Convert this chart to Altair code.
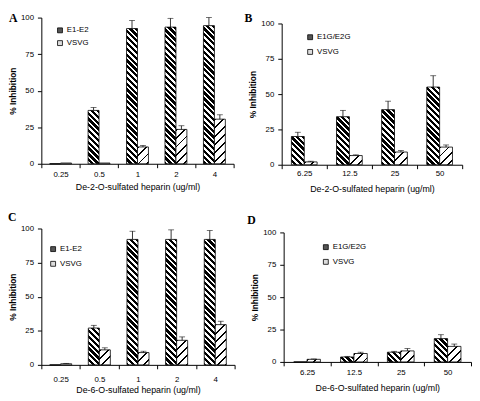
import math
import altair as alt

# ---------------- data ----------------
cats_A = ["0.25", "0.5", "1", "2", "4"]
names_A = ["E1-E2", "VSVG"]
e_A = [0, 36.5, 92.5, 93.5, 94.5]
e_A_err = [0, 2, 5.5, 6, 5.5]
v_A = [0.5, 0.5, 11.5, 23.5, 30.5]
v_A_err = [0, 0, 1, 2.5, 3]

cats_B = ["6.25", "12.5", "25", "50"]
names_B = ["E1G/E2G", "VSVG"]
e_B = [20, 34, 39, 55]
e_B_err = [3, 4.5, 6, 8]
v_B = [2, 6.5, 9, 12.5]
v_B_err = [0.5, 0.5, 1, 1.5]

cats_C = ["0.25", "0.5", "1", "2", "4"]
names_C = ["E1-E2", "VSVG"]
e_C = [0, 27, 92, 92, 92]
e_C_err = [0, 2, 6, 7, 6.5]
v_C = [0.8, 11, 9, 18, 29.5]
v_C_err = [0.3, 1.5, 1, 2.5, 2.5]

cats_D = ["6.25", "12.5", "25", "50"]
names_D = ["E1G/E2G", "VSVG"]
e_D = [0, 3.8, 7.5, 18]
e_D_err = [0, 0.5, 0.7, 3]
v_D = [2, 6.5, 8.5, 12]
v_D_err = [0.3, 1, 1.8, 1.8]

yticks = [0, 25, 50, 75, 100]
title_2 = "De-2-O-sulfated heparin (ug/ml)"
title_6 = "De-6-O-sulfated heparin (ug/ml)"

FONT = "Liberation Sans"
OFFSET_PAD = 0.755   # gap between groups (Excel gap width)


def stripe_fill(w, h, pitch, frac, lean):
    """Hatch pattern as a hard-stop linear gradient in the bar's bounding box."""
    if h < 1.5:
        return "white"
    L = w + h
    per = pitch * math.sqrt(2) / L
    stops = []
    t = 0.0
    while t < 1:
        b = min(t + per * frac, 1)
        e = min(t + per, 1)
        stops += [{"offset": round(t, 5), "color": "black"},
                  {"offset": round(b, 5), "color": "black"},
                  {"offset": round(b, 5), "color": "white"},
                  {"offset": round(e, 5), "color": "white"}]
        t += per
    k = (w + h) / (w * w + h * h)
    dx, dy = w * k, h * k
    if lean == "/":
        x1, y1, x2, y2 = 0, 0, dx, dy
    else:
        x1, y1, x2, y2 = 1, 0, 1 - dx, dy
    return {"gradient": "linear", "x1": x1, "y1": y1, "x2": x2, "y2": y2,
            "stops": stops}


def panel(cats, e, e_err, v, v_err, names, xtitle, letter, W, H,
          lab_pad, ttl_pad, lx, ly, lrow, ldx, ldy):
    step = W / len(cats)
    bw = step / (2 + 2 * OFFSET_PAD)
    recs = []
    for i, c in enumerate(cats):
        for nm, val, err, pitch, frac, lean in [
                (names[0], e[i], e_err[i], 4.2, 0.55, "\\"),
                (names[1], v[i], v_err[i], 6.0, 0.22, "/")]:
            recs.append({"cat": c, "series": nm, "value": val,
                         "upper": val + err,
                         "grad": stripe_fill(bw, val / 100 * H, pitch, frac, lean)})
    base = alt.Chart(alt.Data(values=recs))

    x = alt.X("cat:N", sort=cats,
              scale=alt.Scale(paddingInner=0, paddingOuter=0),
              axis=alt.Axis(title=xtitle, labelAngle=0, tickBand="extent",
                            tickSize=4, labelPadding=lab_pad,
                            titlePadding=ttl_pad, titleFontWeight="normal",
                            titleFontSize=9, labelFontSize=8))
    xo = alt.XOffset("series:N", sort=names,
                     scale=alt.Scale(paddingInner=0, paddingOuter=OFFSET_PAD))

    def yenc(field):
        return alt.Y(field, stack=None,
                     scale=alt.Scale(domain=[0, 100], nice=False),
                     axis=alt.Axis(values=yticks, title="% Inhibition",
                                   grid=False, tickSize=4, labelPadding=4,
                                   titlePadding=3, titleFontWeight="bold",
                                   titleFontSize=8.5, labelFontSize=8))

    bars = base.mark_bar(stroke="black", strokeWidth=0.8).encode(
        x=x, xOffset=xo, y=yenc("value:Q"),
        fill=alt.Fill("grad:N", scale=None))
    errs = base.transform_filter("datum.upper > datum.value").mark_rule(
        color="black", strokeWidth=0.8).encode(
        x=x, xOffset=xo, y=yenc("value:Q"), y2="upper:Q")
    caps = base.transform_filter("datum.upper > datum.value").mark_tick(
        color="black", thickness=0.8, size=6).encode(
        x=x, xOffset=xo, y=yenc("upper:Q"))
    leg = base.mark_square(opacity=0, stroke="black").encode(
        x=x, xOffset=xo, y=yenc("value:Q"),
        color=alt.Color("series:N", sort=names,
                        scale=alt.Scale(domain=names, range=["#555555", "#dddddd"]),
                        legend=alt.Legend(title=None, orient="none",
                                          legendX=lx, legendY=ly,
                                          symbolType="square", symbolSize=25,
                                          symbolOpacity=1,
                                          symbolStrokeColor="black",
                                          symbolStrokeWidth=0.8,
                                          labelFont=FONT, labelFontSize=8,
                                          labelColor="black", labelOffset=3,
                                          rowPadding=lrow, padding=0)))
    return alt.layer(bars, errs, caps, leg).properties(
        width=W, height=H,
        title=alt.TitleParams(text=letter, anchor="start", frame="group",
                              dx=ldx, dy=ldy, offset=0,
                              font="Liberation Serif", fontSize=12,
                              fontWeight="bold", color="black"))


def spacer(w):
    return alt.Chart(alt.Data(values=[{"s": 0}])).mark_point(opacity=0).encode(
        x=alt.X("s:Q", axis=None), y=alt.Y("s:Q", axis=None)).properties(
        width=w, height=1)


A = panel(cats_A, e_A, e_A_err, v_A, v_A_err, names_A, title_2, "A",
          196, 149, 3, 4, 15, 9, 3, -33, 11)
B = panel(cats_B, e_B, e_B_err, v_B, v_B_err, names_B, title_2, "B",
          184, 144, 1, 7, 25, 10, 5, -38, 5)
C = panel(cats_C, e_C, e_C_err, v_C, v_C_err, names_C, title_6, "C",
          197, 139, 7, 2, 8, 17, 5, -34, -1)
D = panel(cats_D, e_D, e_D_err, v_D, v_D_err, names_D, title_6, "D",
          191, 132, 3, 7, 39, 11, 5, -37, -2)


def ind(ch):
    return ch.resolve_scale(color="independent", xOffset="independent",
                            x="independent", y="independent").resolve_legend(
        color="independent")


colB = ind(alt.vconcat(spacer(1), B, spacing=5, bounds="flush"))
colD = ind(alt.vconcat(spacer(1), D, spacing=3, bounds="flush"))
row1 = ind(alt.hconcat(A, colB, spacing=49, bounds="flush"))
row2 = ind(alt.hconcat(C, colD, spacing=50, bounds="flush"))

# nested concat rows count as (almost) zero height under "flush", so the
# spacing is the distance between the two rows' plot tops
chart = ind(alt.vconcat(row1, row2, spacing=215, bounds="flush")).properties(
    padding=0, background="white"
).configure_view(stroke=None).configure_axis(
    domainColor="black", tickColor="black", labelColor="black",
    titleColor="black", labelFont=FONT, titleFont=FONT,
    domainWidth=1, tickWidth=1
)

chart.save("out.html", embed_options={"renderer": "svg", "actions": False})
